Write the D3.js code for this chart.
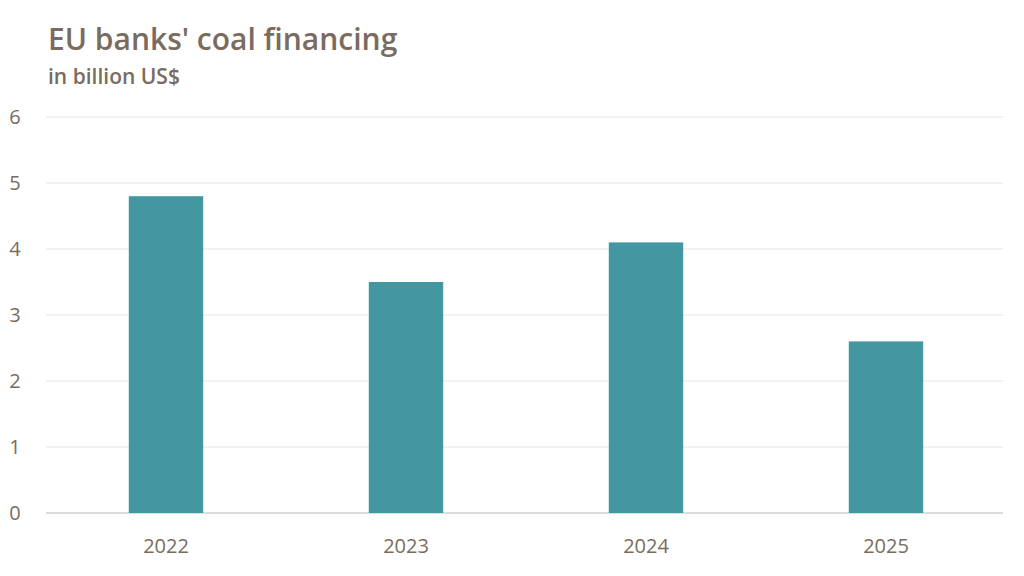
<!DOCTYPE html>
<html><head><meta charset="utf-8">
<script src="https://cdn.jsdelivr.net/npm/d3@7"></script>
<style>body{margin:0;background:#fff}text{font-family:"Open Sans",sans-serif}</style>
</head><body><svg id="c" width="1024" height="576"></svg>
<script>
const categories=["2022","2023","2024","2025"];
const values=[4.8,3.5,4.1,2.6];
const yTicks=[0,1,2,3,4,5,6];
const svg=d3.select("#c");
const txt="#7a6b5f";
const x=d3.scaleBand().domain(categories).range([46,1006]).paddingInner(0.69).paddingOuter(0.345);
const y=d3.scaleLinear().domain([0,6]).range([513,117]);
svg.selectAll(".g").data(yTicks).join("line").attr("x1",46).attr("x2",1003)
 .attr("y1",d=>y(d)).attr("y2",d=>y(d)).attr("stroke",d=>d===0?"#cfcfcf":"#e3e3e3").attr("stroke-width",d=>d===0?1.5:1);
svg.selectAll(".yl").data(yTicks).join("text").attr("x",15).attr("y",d=>y(d)+7)
 .attr("text-anchor","middle").attr("font-size",20).attr("fill",txt).text(d=>d);
svg.selectAll(".b").data(values).join("rect").attr("x",(d,i)=>x(categories[i])).attr("width",x.bandwidth())
 .attr("y",d=>y(d)).attr("height",d=>y(0)-y(d)).attr("fill","#4397a0");
svg.selectAll(".xl").data(categories).join("text").attr("x",d=>x(d)+x.bandwidth()/2).attr("y",553)
 .attr("text-anchor","middle").attr("font-size",20).attr("fill",txt).text(d=>d);
svg.append("text").attr("x",48).attr("y",50).attr("font-size",30).attr("font-weight",600).attr("fill",txt).text("EU banks' coal financing");
svg.append("text").attr("x",48).attr("y",84).attr("font-size",21).attr("font-weight",600).attr("fill",txt).text("in billion US$");
</script></body></html>
